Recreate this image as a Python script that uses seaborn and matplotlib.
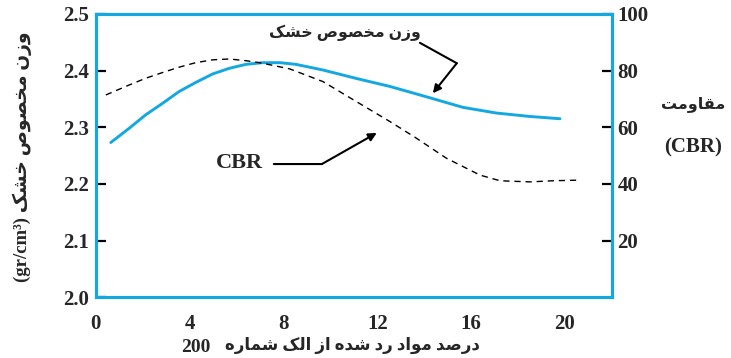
import matplotlib
matplotlib.use("Agg")
import matplotlib.pyplot as plt
import seaborn as sns
import pandas as pd

# ---- data -------------------------------------------------------------
fines_density = [0.64, 1.42, 2.13, 2.84, 3.55, 4.26, 4.98, 5.69, 6.40, 7.11,
                 7.85, 8.53, 9.69, 11.12, 12.54, 13.82, 14.24, 15.66, 17.09,
                 18.51, 19.79]
dry_density = [2.273, 2.298, 2.322, 2.342, 2.363, 2.379, 2.394, 2.404, 2.411,
               2.414, 2.414, 2.411, 2.401, 2.386, 2.372, 2.357, 2.352, 2.335,
               2.325, 2.319, 2.315]

fines_cbr = [0.43, 1.42, 2.13, 2.84, 3.55, 4.26, 4.98, 5.69, 6.40, 7.11,
             8.27, 9.69, 11.12, 12.54, 13.60, 14.96, 16.38, 17.23, 18.51,
             19.50, 20.50]
cbr = [71.4, 74.9, 77.3, 79.3, 81.2, 82.8, 83.8, 84.1, 83.5, 82.6,
       80.6, 76.1, 69.0, 62.0, 56.5, 49.0, 43.1, 41.1, 40.7, 41.1, 41.3]

x_ticks = [0, 2, 4, 6, 8, 10, 12, 14, 16, 18, 20]
x_tick_labels = ["0", "", "4", "", "8", "", "12", "", "16", "", "20"]
left_ticks = [2.0, 2.1, 2.2, 2.3, 2.4, 2.5]
right_ticks = [20, 40, 60, 80, 100]

label_density = "وزن مخصوص خشک"
label_x = "درصد مواد رد شده از الک شماره"
label_sieve = "200"
label_strength = "مقاومت"

# ---- minimal Persian shaping (presentation forms, visual order) -------
FORMS = {  # isolated, final, initial, medial
    "ا": ("\uFE8D", "\uFE8E", None, None),
    "د": ("\uFEA9", "\uFEAA", None, None),
    "ر": ("\uFEAD", "\uFEAE", None, None),
    "ز": ("\uFEAF", "\uFEB0", None, None),
    "و": ("\uFEED", "\uFEEE", None, None),
    "ت": ("\uFE95", "\uFE96", "\uFE97", "\uFE98"),
    "خ": ("\uFEA5", "\uFEA6", "\uFEA7", "\uFEA8"),
    "ش": ("\uFEB5", "\uFEB6", "\uFEB7", "\uFEB8"),
    "ص": ("\uFEB9", "\uFEBA", "\uFEBB", "\uFEBC"),
    "ق": ("\uFED5", "\uFED6", "\uFED7", "\uFED8"),
    "ل": ("\uFEDD", "\uFEDE", "\uFEDF", "\uFEE0"),
    "م": ("\uFEE1", "\uFEE2", "\uFEE3", "\uFEE4"),
    "ن": ("\uFEE5", "\uFEE6", "\uFEE7", "\uFEE8"),
    "ه": ("\uFEE9", "\uFEEA", "\uFEEB", "\uFEEC"),
    "ک": ("\uFB8E", "\uFB8F", "\uFB90", "\uFB91"),
}


def dual(c):
    return c in FORMS and FORMS[c][2] is not None


def shape(text):
    out = []
    for i, c in enumerate(text):
        if c not in FORMS:
            out.append(c)
            continue
        prev = text[i - 1] if i > 0 else ""
        nxt = text[i + 1] if i + 1 < len(text) else ""
        jp = dual(prev)
        jn = dual(c) and nxt in FORMS
        iso, fin, ini, med = FORMS[c]
        if jp and jn:
            out.append(med)
        elif jp:
            out.append(fin)
        elif jn:
            out.append(ini)
        else:
            out.append(iso)
    return "".join(reversed(out))


# ---- style ------------------------------------------------------------
sns.set_theme(style="white")
blue = "#14A8E2"
plt.rcParams["font.family"] = ["Liberation Serif", "DejaVu Sans"]
plt.rcParams["font.weight"] = "bold"
fa = ["Liberation Serif", "DejaVu Sans"]

fig = plt.figure(figsize=(7.31, 3.58), dpi=100)
ax = fig.add_axes([0.131, 0.170, 0.706, 0.791])
ax2 = ax.twinx()

df_d = pd.DataFrame({"x": fines_density, "y": dry_density})
df_c = pd.DataFrame({"x": fines_cbr, "y": cbr})

sns.lineplot(data=df_d, x="x", y="y", ax=ax, color=blue, lw=2.1,
             estimator=None, sort=False)
sns.lineplot(data=df_c, x="x", y="y", ax=ax2, color="black", lw=1.0,
             estimator=None, sort=False)
ax.lines[0].set_solid_joinstyle("round")
ax2.lines[0].set_dashes([4.5, 3.5])

ax.set_xlim(0, 22)
ax.set_ylim(2.0, 2.5)
ax2.set_ylim(0, 100)

ax.set_xticks(x_ticks)
ax.set_xticklabels(x_tick_labels)
ax.set_yticks(left_ticks)
ax.set_yticklabels([f"{v:.1f}" for v in left_ticks])
ax2.set_yticks(right_ticks)
ax2.set_yticklabels([str(v) for v in right_ticks])

for a in (ax, ax2):
    a.set_xlabel("")
    a.set_ylabel("")
    for s in a.spines.values():
        s.set_color(blue)
        s.set_linewidth(2.2)
    a.grid(False)

ax.tick_params(axis="both", direction="in", length=7, width=1.6,
               color="black", labelsize=15, pad=5)
ax.tick_params(axis="x", pad=12)
ax.tick_params(axis="y", right=False)
ax2.tick_params(axis="y", direction="in", length=7, width=1.6,
                color="black", labelsize=15, pad=4)
for lab in ax.get_xticklabels() + ax.get_yticklabels() + ax2.get_yticklabels():
    lab.set_fontweight("bold")
    lab.set_family("Liberation Serif")

# axis titles
fig.text(0.030, 0.562, "(gr/cm\u00b3) " + shape(label_density),
         rotation=90, ha="center", va="center", fontsize=13.5,
         fontweight="bold", family=fa)
fig.text(0.482, 0.036, shape(label_x), ha="center", va="center",
         fontsize=12, fontweight="bold", family=fa)
fig.text(0.268, 0.030, label_sieve, ha="center", va="center",
         fontsize=14, fontweight="bold", family="Liberation Serif")
fig.text(0.948, 0.709, shape(label_strength), ha="center", va="center",
         fontsize=11.5, fontweight="bold", family=fa)
fig.text(0.948, 0.587, "(CBR)", ha="center", va="center",
         fontsize=15, fontweight="bold", family="Liberation Serif")

# curve callouts
ax.text(10.62, 2.466, shape(label_density), ha="center", va="center",
        fontsize=11.3, fontweight="bold", family=fa)
ax.annotate("", xy=(15.39, 2.413), xytext=(13.82, 2.449),
            arrowprops=dict(arrowstyle="-", color="black", lw=1.5,
                            shrinkA=0, shrinkB=0))
ax.annotate("", xy=(14.37, 2.360), xytext=(15.39, 2.413),
            arrowprops=dict(arrowstyle="-|>", color="black", lw=1.5,
                            mutation_scale=12, shrinkA=0, shrinkB=0))

ax.text(6.14, 2.237, "CBR", ha="center", va="center", fontsize=16,
        fontweight="bold", family="Liberation Serif")
ax.annotate("", xy=(9.64, 2.235), xytext=(7.59, 2.235),
            arrowprops=dict(arrowstyle="-", color="black", lw=1.5,
                            shrinkA=0, shrinkB=0))
ax.annotate("", xy=(11.98, 2.290), xytext=(9.64, 2.235),
            arrowprops=dict(arrowstyle="-|>", color="black", lw=1.5,
                            mutation_scale=12, shrinkA=0, shrinkB=0))

fig.savefig("out.png", dpi=100)
